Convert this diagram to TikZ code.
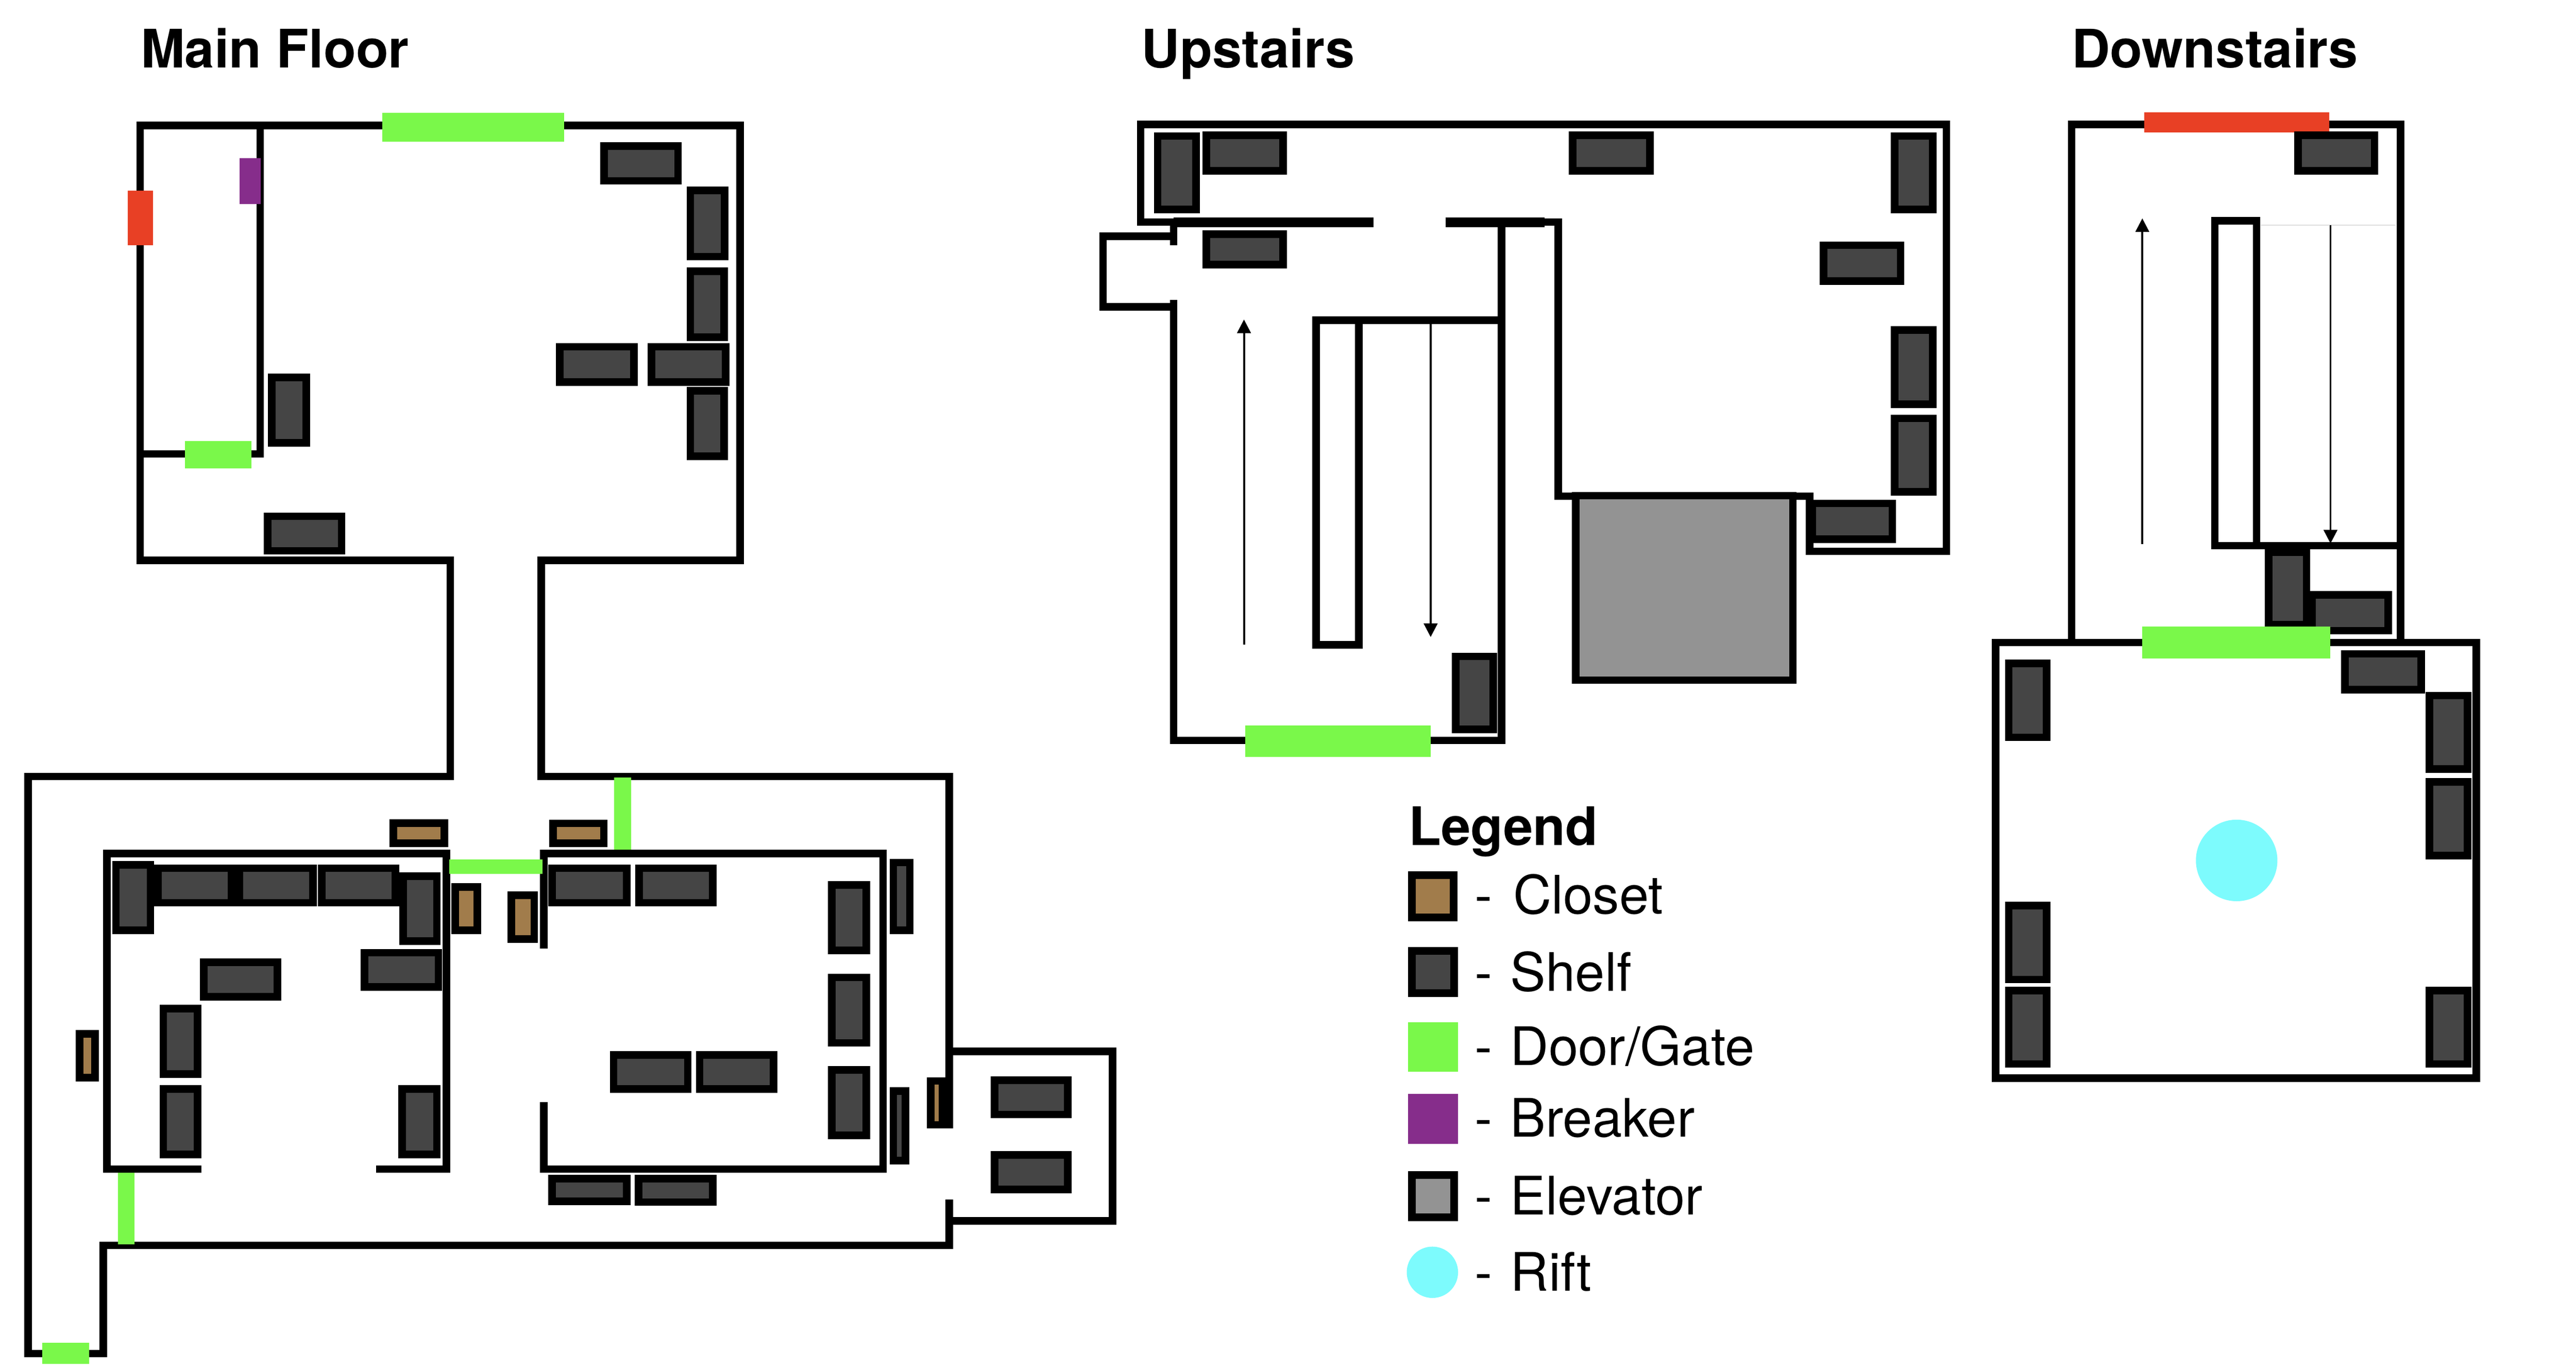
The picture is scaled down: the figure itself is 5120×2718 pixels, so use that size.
\documentclass[tikz,border=0pt]{standalone}
\usepackage{fontspec}
\setmainfont{TeX Gyre Heros}
\usetikzlibrary{arrows.meta}

\definecolor{closetcol}{HTML}{A17C4B}
\definecolor{shelfcol}{HTML}{454545}
\definecolor{doorcol}{HTML}{7AF84A}
\definecolor{breakercol}{HTML}{862D8B}
\definecolor{liftcol}{HTML}{939393}
\definecolor{riftcol}{HTML}{7DFBFD}
\definecolor{lockcol}{HTML}{E84025}

\tikzset{
    wall/.style={line width=.15cm},
    shelf/.style={draw=black, fill=shelfcol, line width=.15cm},
    closet/.style={draw=black, fill=closetcol, line width=.15cm},
    lift/.style={draw=black, fill=liftcol, line width=.15cm},
    door/.style={fill=doorcol},
    lockdoor/.style={fill=lockcol},
    breaker/.style={fill=breakercol},
    rift/.style={fill=riftcol},
    route/.style={line width=.04cm, -{Triangle[length=.27cm, width=.27cm]}},
    floortitle/.style={anchor=base west, inner sep=0, font=\fontsize{30pt}{34pt}\selectfont\bfseries},
    keytext/.style={anchor=base west, inner sep=0, font=\fontsize{30pt}{34pt}\selectfont}
}

\begin{document}
\begin{tikzpicture}[x=.01cm, y=-.01cm]
    \useasboundingbox (0, 0) rectangle (5120, 2718);
    \fill[white] (0, 0) rectangle (5120, 2718);

    % main floor, top room
    \draw[wall] (895, 1543)--(895, 1113.5)--(278.5, 1113.5)--(278.5, 249.5)--(1471, 249.5)--(1471, 1113.5)--(1075.5, 1113.5)--(1075.5, 1543);
    \draw[wall] (517, 242)--(517, 902)--(271, 902);
    \fill[door] (760, 224) rectangle (1121, 282);
    \fill[lockdoor] (254, 379) rectangle (304, 487);
    \fill[breaker] (476.5, 314) rectangle (518, 406);
    \fill[door] (368, 877) rectangle (500, 931);
    \draw[shelf] (1200.5, 290.5) rectangle (1347.5, 359.5);
    \draw[shelf] (1372, 378.5) rectangle (1440.5, 510);
    \draw[shelf] (1372, 539) rectangle (1439.5, 670);
    \draw[shelf] (1112.5, 689) rectangle (1260, 759);
    \draw[shelf] (1295, 689) rectangle (1442.5, 759);
    \draw[shelf] (1372, 776.5) rectangle (1439.5, 907);
    \draw[shelf] (540, 750) rectangle (608.5, 880);
    \draw[shelf] (532, 1026) rectangle (679, 1094.5);

    % main floor, outer ring
    \draw[wall] (902.5, 1543)--(55.5, 1543)--(55.5, 2690)--(205, 2690)--(205, 2475)--(1887, 2475)--(1887, 2384);
    \draw[wall] (1068, 1543)--(1887, 1543)--(1887, 2243);
    \draw[wall] (1887, 2089.5)--(2211.5, 2089.5)--(2211.5, 2426.5)--(1887, 2426.5);
    \fill[door] (84, 2669) rectangle (177.5, 2710);
    \fill[door] (235, 2329) rectangle (267, 2472.5);
    \fill[door] (1220.5, 1545) rectangle (1254, 1689);

    % main floor, two inner rooms
    \draw[wall] (400.5, 2323.5)--(212.5, 2323.5)--(212.5, 1696.5)--(887.5, 1696.5)--(887.5, 2323.5)--(748, 2323.5);
    \draw[wall] (1081, 1885)--(1081, 1696.5)--(1755, 1696.5)--(1755, 2323.5)--(1081, 2323.5)--(1081, 2190);
    \fill[door] (893, 1708) rectangle (1078, 1737);
    \draw[shelf] (230.5, 1718.5) rectangle (299, 1849);
    \draw[shelf] (314, 1725.5) rectangle (460.5, 1794);
    \draw[shelf] (475.5, 1725.5) rectangle (622, 1794);
    \draw[shelf] (639.5, 1725.5) rectangle (786, 1794);
    \draw[shelf] (801, 1741.5) rectangle (868.5, 1870.5);
    \draw[shelf] (724.5, 1893.5) rectangle (871.5, 1961.5);
    \draw[shelf] (405, 1912.5) rectangle (551.5, 1981);
    \draw[shelf] (324.5, 2004.5) rectangle (393, 2134.5);
    \draw[shelf] (324.5, 2164.5) rectangle (393, 2294.5);
    \draw[shelf] (799.5, 2164.5) rectangle (868.5, 2294.5);
    \draw[shelf] (1097.5, 1725.5) rectangle (1245.5, 1794);
    \draw[shelf] (1270.5, 1725.5) rectangle (1417, 1794);
    \draw[shelf] (1653.5, 1758.5) rectangle (1722, 1888.5);
    \draw[shelf] (1653.5, 1942.5) rectangle (1722, 2072.5);
    \draw[shelf] (1653.5, 2126.5) rectangle (1722, 2256.5);
    \draw[shelf] (1775.5, 1714) rectangle (1808.5, 1849);
    \draw[shelf] (1775.5, 2168.5) rectangle (1799.5, 2306.5);
    \draw[shelf] (1219.5, 2096.5) rectangle (1367, 2164.5);
    \draw[shelf] (1390.5, 2096.5) rectangle (1537.5, 2164.5);
    \draw[shelf] (1097.5, 2342.5) rectangle (1245.5, 2387.5);
    \draw[shelf] (1269, 2342.5) rectangle (1417, 2389);
    \draw[shelf] (1976.5, 2146.5) rectangle (2122.5, 2215);
    \draw[shelf] (1976.5, 2295.5) rectangle (2122.5, 2364);
    \draw[closet] (782, 1635.5) rectangle (883, 1675.5);
    \draw[closet] (1099, 1636.5) rectangle (1200, 1675.5);
    \draw[closet] (905, 1762.5) rectangle (949, 1848.5);
    \draw[closet] (1016.5, 1779.5) rectangle (1062, 1866.5);
    \draw[closet] (158.5, 2054.5) rectangle (189, 2142);
    \draw[closet] (1850, 2148.5) rectangle (1873, 2235.5);

    % upstairs
    \draw[wall] (2332.5, 441.5)--(2267, 441.5)--(2267, 247.5)--(3868.5, 247.5)--(3868.5, 1095.5)--(3596.5, 1095.5)--(3596.5, 986)--(3097, 986)--(3097, 441.5)--(2977, 441.5);
    \draw[line width=.2cm] (2873, 442)--(3070, 442);
    \draw[line width=.2cm] (2332.5, 442)--(2730, 442);
    \draw[wall] (2332.5, 434)--(2332.5, 487);
    \draw[wall] (2340, 469.5)--(2192.5, 469.5)--(2192.5, 610)--(2340, 610);
    \draw[wall] (2332.5, 596)--(2332.5, 1471.5)--(2984.5, 1471.5)--(2984.5, 441.5);
    \draw[wall] (2708, 1281.5)--(2616, 1281.5)--(2616, 636.5)--(2984.5, 636.5);
    \draw[wall] (2701, 629)--(2701, 1289);
    \draw[route] (2472.5, 1281)--(2472.5, 635);
    \draw[route] (2843.5, 644)--(2843.5, 1266);
    \fill[door] (2475, 1442) rectangle (2843.5, 1504.5);
    \draw[lift] (3132, 985) rectangle (3563.5, 1351.5);
    \draw[shelf] (2301, 270.5) rectangle (2377.5, 416.5);
    \draw[shelf] (2397.5, 268.5) rectangle (2550, 339.5);
    \draw[shelf] (3125.5, 268.5) rectangle (3279, 339.5);
    \draw[shelf] (3766, 270.5) rectangle (3841.5, 416.5);
    \draw[shelf] (3624.5, 487.5) rectangle (3777.5, 558.5);
    \draw[shelf] (3766, 656) rectangle (3841.5, 803);
    \draw[shelf] (3766, 831.5) rectangle (3841.5, 977.5);
    \draw[shelf] (3602.5, 1000.5) rectangle (3761, 1071.5);
    \draw[shelf] (2397.5, 465.5) rectangle (2550, 525.5);
    \draw[shelf] (2893.5, 1304.5) rectangle (2968, 1449.5);

    % downstairs
    \draw[wall] (4117.5, 1277)--(4117.5, 247)--(4771, 247)--(4771, 1277);
    \draw[wall] (4771, 1084.5)--(4402, 1084.5)--(4402, 439)--(4485, 439)--(4485, 1084.5);
    \draw[gray!25, line width=.02cm] (4493.5, 447.5)--(4762, 447.5);
    \draw[wall] (3966.5, 1277) rectangle (4921.5, 2143);
    \draw[route] (4258, 1081.5)--(4258, 434);
    \draw[route] (4632, 447.5)--(4632, 1080);
    \fill[lockdoor] (4261.5, 223) rectangle (4629, 263);
    \draw[shelf] (4567.5, 268.5) rectangle (4719.5, 339.5);
    \draw[shelf] (4595.5, 1182) rectangle (4747, 1253.5);
    \draw[shelf] (4509, 1097.5) rectangle (4584.5, 1241);
    \draw[shelf] (4660.5, 1299.5) rectangle (4812.5, 1370.5);
    \draw[shelf] (3992.5, 1318.5) rectangle (4068, 1465.5);
    \draw[shelf] (3992.5, 1799.5) rectangle (4068, 1946.5);
    \draw[shelf] (3992.5, 1968.5) rectangle (4068, 2114.5);
    \draw[shelf] (4828.5, 1382.5) rectangle (4904.5, 1528.5);
    \draw[shelf] (4828.5, 1554) rectangle (4904.5, 1700.5);
    \draw[shelf] (4828.5, 1968.5) rectangle (4904.5, 2114.5);
    \fill[door] (4258, 1245) rectangle (4631, 1309);
    \fill[rift] (4445.5, 1710) circle (81);

    % titles
    \node[floortitle] (mainfloor) at (279, 135) {Main Floor};
    \node[floortitle] (upstairs) at (2268, 135) {Upstairs};
    \node[floortitle] (downstairs) at (4117, 135) {Downstairs};

    % legend
    \node[floortitle] (legend) at (2799, 1680) {Legend};
    \draw[closet] (2806.5, 1739.5) rectangle (2889.5, 1823.5);
    \draw[shelf] (2806.5, 1890) rectangle (2890.5, 1974);
    \fill[door] (2799, 2032) rectangle (2898, 2130);
    \fill[breaker] (2799, 2173.5) rectangle (2898, 2273);
    \draw[lift] (2806.5, 2335.5) rectangle (2890, 2419.5);
    \fill[rift] (2847, 2528.5) circle (51);
    \node[keytext] (keycloset) at (2930.5, 1816.5) {-\hspace{11.7pt}Closet};
    \node[keytext] (keyshelf) at (2930.5, 1969.5) {-\hspace{10.2pt}Shelf};
    \node[keytext] (keydoor) at (2930.5, 2117) {-\hspace{10.2pt}Door/Gate};
    \node[keytext] (keybreaker) at (2930.5, 2259) {-\hspace{10.2pt}Breaker};
    \node[keytext] (keylift) at (2930.5, 2414) {-\hspace{10.2pt}Elevator};
    \node[keytext] (keyrift) at (2930.5, 2566) {-\hspace{10.2pt}Rift};
\end{tikzpicture}
\end{document}
